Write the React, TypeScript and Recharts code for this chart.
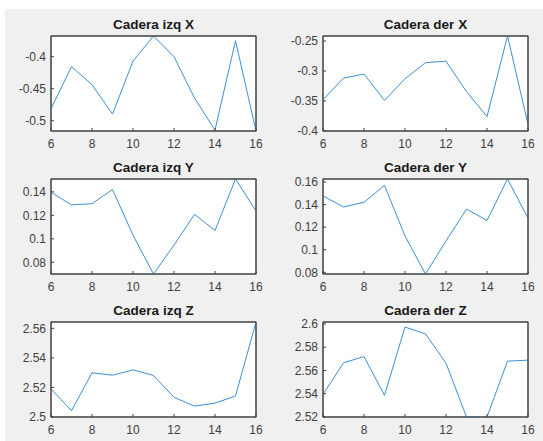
import React from 'react';
import { LineChart, Line, XAxis, YAxis } from 'recharts';

const frames = [6, 7, 8, 9, 10, 11, 12, 13, 14, 15, 16];
const xTicks = [6, 8, 10, 12, 14, 16];

const caderaIzqX = [-0.4813, -0.4156, -0.4438, -0.4896, -0.4068, -0.3677, -0.4, -0.4646, -0.5146, -0.375, -0.516];
const caderaDerX = [-0.3478, -0.3118, -0.3051, -0.3489, -0.3129, -0.286, -0.2837, -0.3343, -0.3759, -0.2416, -0.3888];
const caderaIzqY = [0.1397, 0.1289, 0.13, 0.142, 0.1031, 0.07, 0.0946, 0.1209, 0.1071, 0.151, 0.1237];
const caderaDerY = [0.1477, 0.1379, 0.1421, 0.157, 0.1122, 0.0785, 0.1078, 0.136, 0.126, 0.1627, 0.128];
const caderaIzqZ = [2.5189, 2.5043, 2.5299, 2.5283, 2.5319, 2.5281, 2.5133, 2.5074, 2.5094, 2.5142, 2.5643];
const caderaDerZ = [2.5394, 2.5666, 2.572, 2.5386, 2.5974, 2.5914, 2.5663, 2.52, 2.52, 2.568, 2.5689];

const ticksIzqX = [-0.5, -0.45, -0.4];
const ticksDerX = [-0.4, -0.35, -0.3, -0.25];
const ticksIzqY = [0.08, 0.1, 0.12, 0.14];
const ticksDerY = [0.08, 0.1, 0.12, 0.14, 0.16];
const ticksIzqZ = [2.5, 2.52, 2.54, 2.56];
const ticksDerZ = [2.52, 2.54, 2.56, 2.58, 2.6];

const FONT = '"Liberation Sans", Arial, Helvetica, sans-serif';
const AX = '#404040';
const LINE = '#3b8fd6';
const BW = 205;
const BH = 95;
const ML = 50;
const MT = 10;
const MR = 10;
const XH = 25;

type PanelProps = {
  title: string;
  values: number[];
  domain: [number, number];
  yTicks: number[];
  left: number;
  top: number;
};

function Panel({ title, values, domain, yTicks, left, top }: PanelProps) {
  const data = frames.map((x, i) => ({ x, v: values[i] }));
  return (
    <>
      <div
        style={{
          position: 'absolute',
          left,
          top: top - 19,
          width: BW,
          height: 16,
          lineHeight: '16px',
          textAlign: 'center',
          fontFamily: FONT,
          fontWeight: 'bold',
          fontSize: 13.5,
          color: '#1a1a1a',
          whiteSpace: 'nowrap',
        }}
      >
        {title}
      </div>
      <div style={{ position: 'absolute', left: left - ML, top: top - MT, fontFamily: FONT }}>
        <LineChart
          width={ML + BW + MR}
          height={MT + BH + XH}
          data={data}
          margin={{ top: MT - 1, right: MR - 1, bottom: 0, left: 0 }}
        >
          <rect x={ML} y={MT} width={BW} height={BH} fill="#ffffff" stroke={AX} strokeWidth={1} />
          <XAxis
            xAxisId="b"
            dataKey="x"
            type="number"
            domain={[6, 16]}
            ticks={xTicks}
            interval={0}
            orientation="bottom"
            height={XH}
            tickSize={-3}
            tickMargin={11}
            stroke={AX}
            tick={{ fill: AX, fontSize: 12 }}
          />
          <XAxis
            xAxisId="t"
            dataKey="x"
            type="number"
            domain={[6, 16]}
            ticks={xTicks}
            interval={0}
            orientation="top"
            height={1}
            tickSize={-3}
            stroke={AX}
            tick={false}
          />
          <YAxis
            yAxisId="l"
            type="number"
            domain={domain}
            ticks={yTicks}
            interval={0}
            allowDataOverflow
            width={ML}
            tickSize={-3}
            tickMargin={8}
            stroke={AX}
            tick={{ fill: AX, fontSize: 12 }}
          />
          <YAxis
            yAxisId="r"
            orientation="right"
            type="number"
            domain={domain}
            ticks={yTicks}
            interval={0}
            allowDataOverflow
            width={1}
            tickSize={-3}
            stroke={AX}
            tick={false}
          />
          <Line
            xAxisId="b"
            yAxisId="l"
            dataKey="v"
            type="linear"
            stroke={LINE}
            strokeWidth={1}
            dot={false}
            isAnimationActive={false}
          />
        </LineChart>
      </div>
    </>
  );
}

export default function App() {
  return (
    <div style={{ position: 'absolute', left: 0, top: 0, width: 543, height: 441, background: '#ffffff', overflow: 'hidden' }}>
      <div style={{ position: 'absolute', left: 5, top: 9, width: 538, height: 432, background: '#f0f0f0' }} />
      <Panel title="Cadera izq X" values={caderaIzqX} domain={[-0.516, -0.3677]} yTicks={ticksIzqX} left={51} top={36} />
      <Panel title="Cadera der X" values={caderaDerX} domain={[-0.4, -0.2416]} yTicks={ticksDerX} left={323} top={36} />
      <Panel title="Cadera izq Y" values={caderaIzqY} domain={[0.07, 0.151]} yTicks={ticksIzqY} left={51} top={179} />
      <Panel title="Cadera der Y" values={caderaDerY} domain={[0.0785, 0.1627]} yTicks={ticksDerY} left={323} top={179} />
      <Panel title="Cadera izq Z" values={caderaIzqZ} domain={[2.5, 2.5643]} yTicks={ticksIzqZ} left={51} top={322} />
      <Panel title="Cadera der Z" values={caderaDerZ} domain={[2.52, 2.6017]} yTicks={ticksDerZ} left={323} top={322} />
    </div>
  );
}
